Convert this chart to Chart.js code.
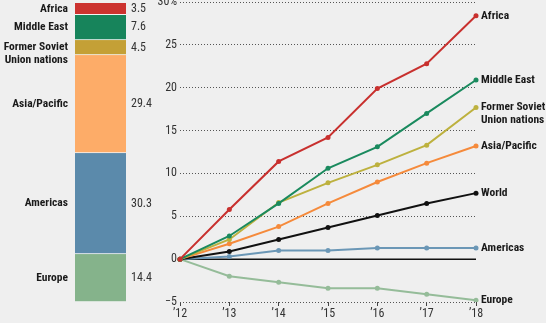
<!DOCTYPE html>
<html>
<head>
<meta charset="utf-8">
<script src="https://cdn.jsdelivr.net/npm/chart.js@4.4.0/dist/chart.umd.min.js"></script>
<style>
    html, body { margin: 0; padding: 0; background: #efefef; overflow: hidden; }
    #wrap { position: relative; width: 546px; height: 323px; }
    #shareBox { position: absolute; left: 0; top: 0; }
    #growthBox { position: absolute; left: 140px; top: -10px; }
</style>
</head>
<body>
<div id="wrap">
    <div id="shareBox"><canvas id="shareChart" width="160" height="323"></canvas></div>
    <div id="growthBox"><canvas id="growthChart" width="406" height="333"></canvas></div>
</div>
<script>
// Share by region (stacked bar, top to bottom)
const shareLabels = [['Africa'], ['Middle East'], ['Former Soviet', 'Union nations'], ['Asia/Pacific'], ['Americas'], ['Europe']];
const shareValues = [3.5, 7.6, 4.5, 29.4, 30.3, 14.4];
const shareColors = ['#cc332f', '#17845b', '#c4a036', '#fdac68', '#5b8aab', '#85b38b'];

// Growth since 2012, percent
const years = ['\u201912', '\u201913', '\u201914', '\u201915', '\u201916', '\u201917', '\u201918'];
const yTicks = [-5, 0, 5, 10, 15, 20, 25, 30];
const africa = [0, 5.8, 11.4, 14.2, 19.9, 22.8, 28.4];
const middleEast = [0, 2.7, 6.5, 10.6, 13.1, 17.0, 20.9];
const formerSoviet = [0, 2.3, 6.6, 8.9, 11.0, 13.3, 17.7];
const asiaPacific = [0, 1.8, 3.8, 6.5, 9.0, 11.2, 13.2];
const world = [0, 0.9, 2.3, 3.7, 5.1, 6.5, 7.7];
const americas = [0, 0.3, 1.0, 1.0, 1.3, 1.3, 1.3];
const europe = [0, -2.0, -2.7, -3.4, -3.4, -4.1, -4.8];

const lineNames = [['Africa'], ['Middle East'], ['Former Soviet', 'Union nations'], ['Asia/Pacific'], ['World'], ['Americas'], ['Europe']];
const lineSeries = [africa, middleEast, formerSoviet, asiaPacific, world, americas, europe];
const lineColors = ['#c8302e', '#1a8a5e', '#bdb13e', '#f58a3b', '#111111', '#6b97b6', '#95bc99'];

// Roboto is variable, so 'condensed' narrows it like the original's label face
function setLabelFont(ctx, weight, size) {
    ctx.font = weight + ' ' + size + 'px Roboto';
    ctx.fontStretch = 'condensed';
}

const shareLabelPlugin = {
    id: 'shareLabels',
    afterDatasetsDraw(chart) {
        const ctx = chart.ctx;
        ctx.save();
        ctx.textBaseline = 'middle';
        chart.data.datasets.forEach((ds, i) => {
            const bar = chart.getDatasetMeta(i).data[0];
            const mid = (bar.y + bar.base) / 2;
            ctx.fillStyle = '#1a1a1a';
            setLabelFont(ctx, 'bold', 11.5);
            ctx.textAlign = 'right';
            shareLabels[i].forEach((line, k) => ctx.fillText(line, chart.chartArea.left - 7, mid + k * 13));
            ctx.fillStyle = '#333333';
            setLabelFont(ctx, 'normal', 12);
            ctx.textAlign = 'left';
            ctx.fillText(ds.data[0].toFixed(1), chart.chartArea.right + 5, mid);
        });
        ctx.fontStretch = 'normal';
        ctx.restore();
    }
};

new Chart(document.getElementById('shareChart'), {
    type: 'bar',
    data: {
        labels: ['share'],
        datasets: shareValues.map((v, i) => ({
            label: shareLabels[i].join(' '),
            data: [v],
            backgroundColor: shareColors[i],
            borderColor: '#f4f4f4',
            borderWidth: { top: 0, bottom: 1, left: 0, right: 0 },
            borderSkipped: false,
            barPercentage: 1,
            categoryPercentage: 1
        }))
    },
    options: {
        responsive: false,
        animation: false,
        layout: { padding: { left: 75, right: 34, top: 3, bottom: 21 } },
        plugins: { legend: { display: false }, tooltip: { enabled: false } },
        scales: {
            x: { display: false, stacked: true },
            y: { display: false, stacked: true, reverse: true, min: 0, max: shareValues.reduce((a, b) => a + b, 0) }
        }
    },
    plugins: [shareLabelPlugin]
});

const zeroLinePlugin = {
    id: 'zeroLine',
    beforeDatasetsDraw(chart) {
        const ctx = chart.ctx;
        const y = chart.scales.y.getPixelForValue(0);
        ctx.save();
        ctx.strokeStyle = '#111111';
        ctx.lineWidth = 1.5;
        ctx.beginPath();
        ctx.moveTo(chart.chartArea.left, y);
        ctx.lineTo(chart.chartArea.right, y);
        ctx.stroke();
        ctx.restore();
    }
};

const endLabelPlugin = {
    id: 'endLabels',
    afterDatasetsDraw(chart) {
        const ctx = chart.ctx;
        ctx.save();
        setLabelFont(ctx, 'bold', 11.5);
        ctx.fillStyle = '#1a1a1a';
        ctx.textAlign = 'left';
        ctx.textBaseline = 'middle';
        chart.data.datasets.forEach((ds, i) => {
            const pts = chart.getDatasetMeta(i).data;
            const last = pts[pts.length - 1];
            lineNames[i].forEach((line, k) => ctx.fillText(line, last.x + 5, last.y + k * 13));
        });
        ctx.fontStretch = 'normal';
        ctx.restore();
    }
};

const tickFont = { size: 12, family: 'Roboto', weight: 'condensed' };

new Chart(document.getElementById('growthChart'), {
    type: 'line',
    data: {
        labels: years,
        datasets: lineSeries.map((s, i) => ({
            label: lineNames[i].join(' '),
            data: s,
            borderColor: lineColors[i],
            backgroundColor: lineColors[i],
            borderWidth: 2,
            pointRadius: 2.5,
            pointBorderWidth: 0,
            tension: 0,
            fill: false
        }))
    },
    options: {
        responsive: false,
        animation: false,
        layout: { padding: { left: 0, right: 70, top: 12, bottom: 0 } },
        plugins: { legend: { display: false }, tooltip: { enabled: false } },
        scales: {
            x: {
                offset: false,
                grid: { drawOnChartArea: false, drawTicks: true, tickLength: 4, color: '#444444' },
                border: { display: false },
                ticks: { padding: 1, color: '#333333', font: tickFont, autoSkip: false, maxRotation: 0 },
                afterFit: (scale) => { scale.height = 21; }
            },
            y: {
                min: -5,
                max: 30,
                afterBuildTicks: (scale) => { scale.ticks = yTicks.map(v => ({ value: v })); },
                grid: { color: '#555555', lineWidth: 1, drawTicks: false },
                border: { display: false, dash: [1, 2] },
                ticks: {
                    padding: 3,
                    color: '#333333',
                    font: tickFont,
                    callback: (v) => v === 30 ? '30%' : (v < 0 ? '\u2212' + Math.abs(v) : v)
                },
                afterFit: (scale) => { scale.width = 40; }
            }
        }
    },
    plugins: [zeroLinePlugin, endLabelPlugin]
});
</script>
</body>
</html>
